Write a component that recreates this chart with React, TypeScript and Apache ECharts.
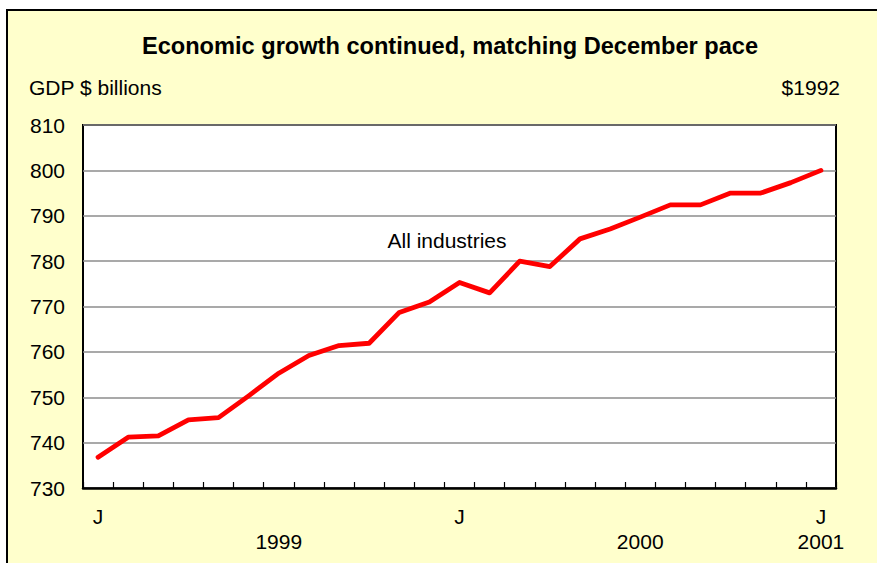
import React, { useEffect, useRef } from "react";
import * as echarts from "echarts";

const categories: string[] = [
  "Jan 1999", "Feb 1999", "Mar 1999", "Apr 1999", "May 1999", "Jun 1999",
  "Jul 1999", "Aug 1999", "Sep 1999", "Oct 1999", "Nov 1999", "Dec 1999",
  "Jan 2000", "Feb 2000", "Mar 2000", "Apr 2000", "May 2000", "Jun 2000",
  "Jul 2000", "Aug 2000", "Sep 2000", "Oct 2000", "Nov 2000", "Dec 2000",
  "Jan 2001",
];

const allIndustries: number[] = [
  736.8, 741.2, 741.5, 745.0, 745.5, 750.3, 755.3, 759.2, 761.4, 761.9,
  768.7, 771.0, 775.3, 773.0, 780.0, 778.8, 784.9, 787.1, 789.7, 792.4,
  792.4, 795.0, 795.0, 797.3, 800.0,
];

// month tick labels (index -> label)
const monthTickLabels: Record<number, string> = { 0: "J", 12: "J", 24: "J" };
// year labels (index -> label)
const yearLabels: Record<number, string> = { 6: "1999", 18: "2000", 24: "2001" };

const yMin = 730;
const yMax = 810;
const yStep = 10;

const titleText = "Economic growth continued, matching December pace";
const unitLeft = "GDP $ billions";
const unitRight = "$1992";
const seriesName = "All industries";

const FONT = "'Liberation Sans', Arial, sans-serif";

export default function App() {
  const ref = useRef<HTMLDivElement>(null);

  useEffect(() => {
    if (!ref.current) return;
    const chart = echarts.init(ref.current, null, { renderer: "svg" });
    chart.setOption({
      animation: false,
      backgroundColor: "#ffffff",
      textStyle: { fontFamily: FONT },
      graphic: [
        {
          type: "rect",
          z: -10,
          silent: true,
          shape: { x: 7, y: 10, width: 890, height: 570 },
          style: { fill: "#FFFFCC", stroke: "#000000", lineWidth: 2 },
        },
        {
          type: "text",
          x: 450,
          y: 46,
          style: {
            text: titleText,
            fill: "#000",
            font: `bold 23.6px ${FONT}`,
            textAlign: "center",
            textVerticalAlign: "middle",
          },
        },
        {
          type: "text",
          x: 29,
          y: 87,
          style: {
            text: unitLeft,
            fill: "#000",
            font: `21px ${FONT}`,
            textAlign: "left",
            textVerticalAlign: "middle",
          },
        },
        {
          type: "text",
          x: 840,
          y: 87,
          style: {
            text: unitRight,
            fill: "#000",
            font: `21px ${FONT}`,
            textAlign: "right",
            textVerticalAlign: "middle",
          },
        },
        {
          type: "text",
          x: 447,
          y: 240,
          z: 10,
          style: {
            text: seriesName,
            fill: "#000",
            font: `21px ${FONT}`,
            textAlign: "center",
            textVerticalAlign: "middle",
          },
        },
      ],
      grid: {
        left: 83,
        top: 125,
        width: 753,
        height: 363,
        show: true,
        backgroundColor: "#ffffff",
        borderColor: "#000000",
        borderWidth: 2,
      },
      xAxis: [
        {
          type: "category",
          data: categories,
          boundaryGap: true,
          axisLine: { show: true, lineStyle: { color: "#000", width: 2.5 } },
          axisTick: {
            show: true,
            inside: true,
            length: 6,
            interval: 0,
            lineStyle: { color: "#000", width: 1.2 },
          },
          axisLabel: {
            interval: 0,
            margin: 18,
            fontSize: 21,
            color: "#000",
            fontFamily: FONT,
            formatter: (_v: string, i: number) => monthTickLabels[i] ?? "",
          },
          splitLine: { show: false },
        },
        {
          type: "category",
          data: categories,
          boundaryGap: true,
          position: "bottom",
          axisLine: { show: false },
          axisTick: { show: false },
          axisLabel: {
            interval: 0,
            margin: 43,
            fontSize: 21,
            color: "#000",
            fontFamily: FONT,
            formatter: (_v: string, i: number) => yearLabels[i] ?? "",
          },
          splitLine: { show: false },
        },
      ],
      yAxis: {
        type: "value",
        min: yMin,
        max: yMax,
        interval: yStep,
        axisLine: { show: false },
        axisTick: { show: false },
        axisLabel: {
          margin: 18,
          fontSize: 21,
          color: "#000",
          fontFamily: FONT,
        },
        splitLine: { show: true, lineStyle: { color: "#8c8c8c", width: 1.5 } },
      },
      series: [
        {
          name: seriesName,
          type: "line",
          xAxisIndex: 0,
          data: allIndustries,
          showSymbol: false,
          symbol: "none",
          lineStyle: { color: "#FF0000", width: 4.8, cap: "round", join: "round" },
          z: 5,
        },
      ],
    });
    return () => chart.dispose();
  }, []);

  return (
    <div
      ref={ref}
      style={{ position: "fixed", left: 0, top: 0, width: 877, height: 563 }}
    />
  );
}
